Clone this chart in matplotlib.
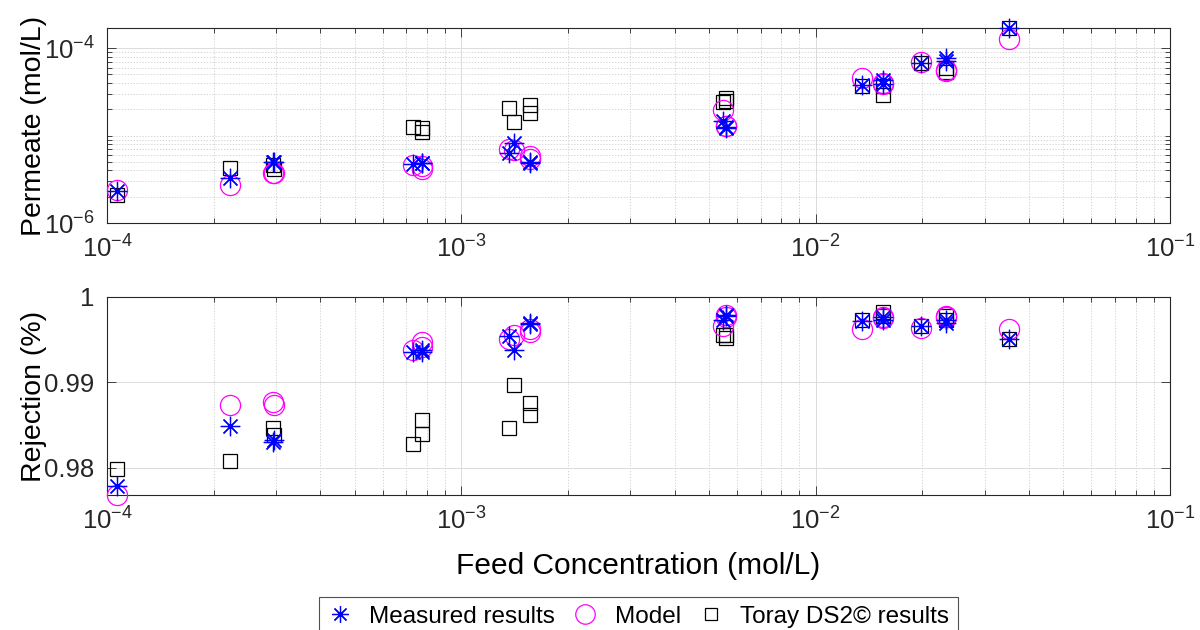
import numpy as np
import matplotlib
matplotlib.use('Agg')
import matplotlib.pyplot as plt
from matplotlib.ticker import LogLocator, FixedLocator, FixedFormatter, NullFormatter, NullLocator
from matplotlib.markers import MarkerStyle
from matplotlib.lines import Line2D

plt.rcParams['font.family'] = ['Liberation Sans', 'DejaVu Sans']
plt.rcParams['mathtext.fontset'] = 'custom'
plt.rcParams['mathtext.rm'] = 'Liberation Sans'
plt.rcParams['mathtext.it'] = 'Liberation Sans:italic'
plt.rcParams['mathtext.bf'] = 'Liberation Sans:bold'

# ---- data ----
feed_conc = [1.07e-4, 2.23e-4, 2.94e-4, 2.96e-4, 7.31e-4, 7.73e-4, 7.73e-4,
             1.364e-3, 1.405e-3, 1.56e-3, 1.56e-3, 5.48e-3, 5.6e-3, 5.6e-3,
             0.01354, 0.01549, 0.01549, 0.01987, 0.02326, 0.02326, 0.03503]

perm_measured = [2.3e-6, 3.27e-6, 4.95e-6, 5.0e-6, 4.75e-6, 4.9e-6, 4.8e-6,
                 6.3e-6, 8.3e-6, 5.05e-6, 4.8e-6, 1.45e-5, 1.22e-5, 1.25e-5,
                 3.77e-5, 4.3e-5, 3.9e-5, 6.74e-5, 7.7e-5, 7.2e-5, 1.70e-4]
perm_model = [2.4e-6, 2.74e-6, 3.7e-6, 3.75e-6, 4.6e-6, 4.2e-6, 4.5e-6,
              7.0e-6, 6.8e-6, 5.8e-6, 5.4e-6, 1.97e-5, 1.27e-5, 1.3e-5,
              4.61e-5, 4.0e-5, 3.85e-5, 7.0e-5, 5.65e-5, 5.5e-5, 1.28e-4]
perm_toray = [2.1e-6, 4.25e-6, 4.55e-6, 4.1e-6, 1.25e-5, 1.1e-5, 1.22e-5,
              2.06e-5, 1.43e-5, 1.81e-5, 2.25e-5, 2.41e-5, 2.72e-5, 2.5e-5,
              3.71e-5, 3.71e-5, 2.93e-5, 6.74e-5, 5.3e-5, 6.0e-5, 1.70e-4]

rej_measured = [0.9779, 0.9849, 0.9830, 0.9832, 0.9936, 0.9936, 0.9938,
                0.9954, 0.9938, 0.99687, 0.9969, 0.99733, 0.9979, 0.9978,
                0.99714, 0.9973, 0.99765, 0.99663, 0.9970, 0.99725, 0.99507]
rej_model = [0.9768, 0.9873, 0.98766, 0.98733, 0.9938, 0.9947, 0.9941,
             0.9951, 0.99557, 0.99624, 0.99585, 0.99655, 0.9979, 0.9977,
             0.99624, 0.99754, 0.9976, 0.99636, 0.99772, 0.9977, 0.99624]
rej_toray = [0.9798, 0.9808, 0.9846, 0.9838, 0.9828, 0.9856, 0.9840,
             0.9846, 0.9897, 0.9876, 0.9862, 0.99557, 0.99518, 0.9955,
             0.99733, 0.9978, 0.99819, 0.99663, 0.99772, 0.99725, 0.99507]

legend_labels = ['Measured results', 'Model', 'Toray DS2\u00a9 results']
rej_ticks = [0.98, 0.99, 1.0]
rej_ticklabels = ['0.98', '0.99', '1']

# ---- styling ----
W, H = 1200, 630
fig = plt.figure(figsize=(W / 100, H / 100), dpi=100)
ax1 = fig.add_axes([107 / W, 1 - 223 / H, 1063 / W, 195 / H])
ax2 = fig.add_axes([107 / W, 1 - 495 / H, 1063 / W, 198 / H])

asterisk = MarkerStyle((8, 2, 0))
c_meas = '#0000FF'
c_model = '#FF00FF'
c_toray = 'black'
axc = '0.15'

def draw(ax, meas, model, toray):
    ax.plot(feed_conc, toray, linestyle='none', marker='s', markersize=10,
            markerfacecolor='none', markeredgecolor=c_toray, markeredgewidth=0.9,
            clip_on=False, zorder=3)
    ax.plot(feed_conc, model, linestyle='none', marker='o', markersize=14.5,
            markerfacecolor='none', markeredgecolor=c_model, markeredgewidth=0.9,
            clip_on=False, zorder=4)
    ax.plot(feed_conc, meas, linestyle='none', marker=asterisk, markersize=14,
            markeredgecolor=c_meas, color=c_meas, markeredgewidth=0.9,
            clip_on=False, zorder=5)

draw(ax1, perm_measured, perm_model, perm_toray)
draw(ax2, rej_measured, rej_model, rej_toray)

for ax in (ax1, ax2):
    ax.set_xscale('log')
    ax.set_xlim(1e-4, 1e-1)
    ax.xaxis.set_major_locator(LogLocator(base=10, numticks=10))
    ax.xaxis.set_minor_locator(LogLocator(base=10, subs=np.arange(2, 10), numticks=20))
    ax.xaxis.set_minor_formatter(NullFormatter())
    ax.tick_params(which='both', direction='in', top=True, right=True,
                   colors=axc, labelsize=18.5, width=0.6)
    ax.tick_params(which='major', length=6.5, pad=9)
    ax.tick_params(which='minor', length=3.6)
    for s in ax.spines.values():
        s.set_color(axc)
        s.set_linewidth(0.8)
    ax.grid(which='major', color='0.86', linestyle='-', linewidth=0.7)
    ax.grid(which='minor', color='0.8', linestyle=(0, (1.5, 2.0)), linewidth=0.6)
    ax.set_axisbelow(True)

# top axis
ax1.set_yscale('log')
ax1.set_ylim(1e-6, 1.7e-4)
ax1.yaxis.set_major_locator(FixedLocator([1e-6, 1e-4]))
ax1.yaxis.set_minor_locator(LogLocator(base=10, subs=np.arange(1, 10), numticks=20))
ax1.yaxis.set_minor_formatter(NullFormatter())
ax1.set_ylabel('Permeate (mol/L)', fontsize=20.5, color='black')
ax1.yaxis.set_label_coords(-0.0564, 0.5)

# bottom axis
ax2.set_ylim(0.9768, 1.0)
ax2.yaxis.set_major_locator(FixedLocator(rej_ticks))
ax2.yaxis.set_major_formatter(FixedFormatter(rej_ticklabels))
ax2.yaxis.set_minor_locator(NullLocator())
ax2.set_ylabel('Rejection (%)', fontsize=20.5, color='black')
ax2.yaxis.set_label_coords(-0.0564, 0.5)
ax2.set_xlabel('Feed Concentration (mol/L)', fontsize=21.5, color='black')
ax2.xaxis.set_label_coords(0.5, -0.29)

# legend
handles = [
    Line2D([], [], linestyle='none', marker=asterisk, markersize=12,
           markeredgecolor=c_meas, markeredgewidth=0.9),
    Line2D([], [], linestyle='none', marker='o', markersize=14,
           markerfacecolor='none', markeredgecolor=c_model, markeredgewidth=0.9),
    Line2D([], [], linestyle='none', marker='s', markersize=9,
           markerfacecolor='none', markeredgecolor=c_toray, markeredgewidth=0.9),
]
leg = fig.legend(handles, legend_labels, loc='upper center',
                 bbox_to_anchor=(638.5 / W, 1 - 597 / H), ncol=3,
                 fontsize=17.5, frameon=True, fancybox=False,
                 edgecolor='0.15', borderpad=0.35, handlelength=1.0,
                 handletextpad=0.7, columnspacing=0.75, borderaxespad=0)
leg.get_frame().set_linewidth(0.8)

fig.savefig('out.png', dpi=100)
